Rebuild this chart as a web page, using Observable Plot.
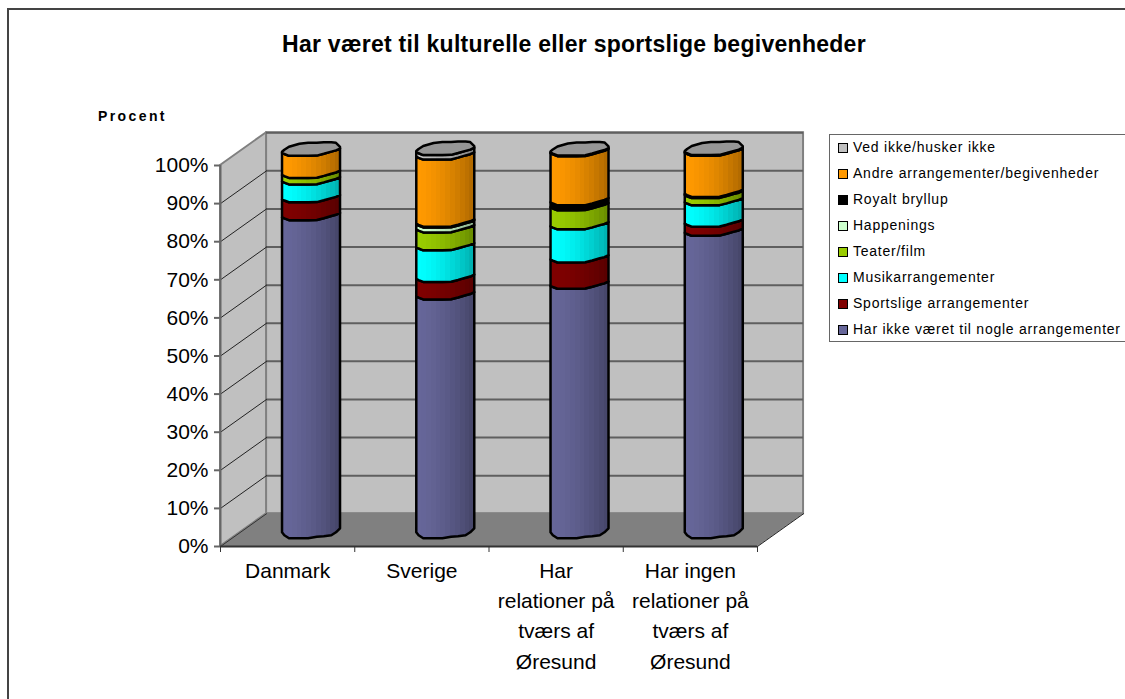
<!DOCTYPE html>
<html><head><meta charset="utf-8">
<script src="https://cdn.jsdelivr.net/npm/d3@7"></script>
<script src="https://cdn.jsdelivr.net/npm/@observablehq/plot@0.6"></script>
<style>
html,body{margin:0;padding:0;background:#fff;overflow:hidden}
#page{position:relative;width:1125px;height:699px;font-family:"Liberation Sans",Arial,sans-serif;color:#000}
#frame{position:absolute;left:7px;top:8px;width:1130px;height:700px;border:2px solid #444;box-sizing:border-box}
#title{position:absolute;left:282px;top:31px;font-weight:bold;font-size:23px;letter-spacing:.28px;white-space:nowrap}
#ytitle{position:absolute;left:98px;top:108px;font-weight:bold;font-size:14px;letter-spacing:2.4px;white-space:nowrap}
#legend{position:absolute;left:829px;top:134px;width:310px;height:208px;border:1px solid #666;box-sizing:border-box;background:#fff}
.row{position:absolute;left:8px;white-space:nowrap;font-size:14px;height:16px;line-height:16px}
.sw{position:absolute;left:0;top:4px;width:8px;height:8px;border:1.5px solid #000;box-sizing:content-box}
.lb{position:absolute;left:15px;top:0;letter-spacing:.76px}
svg{position:absolute;left:0;top:0}
</style></head><body>
<div id="page">
<div id="frame"></div>
<div id="chart"></div>
<div id="title"></div>
<div id="ytitle"></div>
<div id="legend"></div>
</div>
<script>
const chartTitle = "Har været til kulturelle eller sportslige begivenheder";
const yTitle = "Procent";
const categories = ["Danmark", "Sverige", "Har\nrelationer på\ntværs af\nØresund", "Har ingen\nrelationer på\ntværs af\nØresund"];
const seriesNames = ["Har ikke været til nogle arrangementer", "Sportslige arrangementer", "Musikarrangementer", "Teater/film", "Happenings", "Royalt bryllup", "Andre arrangementer/begivenheder", "Ved ikke/husker ikke"];
const seriesColors = ["#666699", "#800000", "#00FFFF", "#99CC00", "#CCFFCC", "#000000", "#FF9900", "#C0C0C0"];
const harIkke = [82.7, 61.9, 64.7, 78.6];
const sportslige = [4.7, 4.6, 6.9, 2.4];
const musik = [4.7, 8.3, 8.7, 5.6];
const teater = [1.7, 4.7, 5.0, 1.9];
const happenings = [0, 1.3, 0, 0];
const royalt = [0, 0.2, 1.3, 0.3];
const andre = [5.8, 17.6, 12.9, 10.8];
const vedIkke = [0, 1.2, 0.2, 0.2];
const seriesValues = [harIkke, sportslige, musik, teater, happenings, royalt, andre, vedIkke];
const yTicks = d3.range(0, 101, 10);
const xTicks = [0, 1, 2, 3, 4];

// Pseudo-3D projection constants, in scale units
const depthX = 0.343, depthY = 8.6;
const barLeft = 0.462, barWidth = 0.432, baseLift = 3.6, pxPerUnit = 3.81;
// Outline of the faceted cylinder, offsets in px (down is positive)
const us     = [0, .04, .12, .30, .45, .60, .72, .85, .93, 1];
const bound  = [0, 1.2, 3, 3, 3, 2.8, 1, -1.2, -2.4, -4.3];
const bottom = [0, 3, 6, 6, 6, 4.5, 4, 3, 0, -4];
const capTop = [-1, -3, -6, -9, -10, -10, -10.5, -10.5, -10, -6];
const lift = (v, off) => v + baseLift - off / pxPerUnit;

const ribbon = (b, loV, loOff, hiV, hiOff) => us.map((u, k) => ({
  key: b, x: b + barLeft + barWidth * u,
  y1: lift(loV, loOff[k]), y2: lift(hiV, hiOff[k])
}));

const segs = seriesValues.map((vals, s) => categories.flatMap((_, b) => {
  if (vals[b] === 0) return [];
  const lo = d3.sum(seriesValues.slice(0, s), a => a[b]);
  return ribbon(b, lo, s === 0 ? bottom : bound, lo + vals[b], bound);
}));
const caps = categories.flatMap((_, b) => {
  const t = d3.sum(seriesValues, a => a[b]);
  return ribbon(b, t, bound, t, capTop);
});

function gradients() {
  const defs = d3.create("svg:defs");
  const n = 12;
  seriesColors.forEach((c, i) => {
    const g = defs.append("linearGradient").attr("id", "g" + i);
    const base = d3.rgb(c);
    for (let k = 0; k < n; k++) {
      const f = 1 - 0.3 * Math.pow(k / (n - 1), 1.5);
      const col = d3.rgb(base.r * f, base.g * f, base.b * f).formatHex();
      g.append("stop").attr("offset", k / n).attr("stop-color", col);
      g.append("stop").attr("offset", (k + 1) / n).attr("stop-color", col);
    }
  });
  return defs.node();
}

const wallCol = "#808080", gridCol = "#5f5f5f", axisCol = "#666";
const side = [{x: 0, y1: 0, y2: 100}, {x: depthX, y1: depthY, y2: 100 + depthY}];
const floor = [{x: 0, y1: 0, y2: 0}, {x: depthX, y1: 0, y2: depthY}, {x: 4, y1: 0, y2: depthY}, {x: 4 + depthX, y1: depthY, y2: depthY}];
const gridRows = yTicks.flatMap(v => [{v, x: 0, y: v}, {v, x: depthX, y: v + depthY}]);

const chart = Plot.plot({
  width: 1125, height: 699,
  marginLeft: 220, marginRight: 368, marginTop: 165, marginBottom: 153,
  style: {background: "transparent", overflow: "visible"},
  x: {domain: [0, 4], axis: null},
  y: {domain: [0, 100], axis: null},
  marks: [
    gradients,
    Plot.rect([0], {x1: depthX, x2: 4 + depthX, y1: depthY, y2: 100 + depthY, fill: "#C0C0C0", stroke: wallCol, strokeWidth: 2}),
    Plot.areaY(side, {x: "x", y1: "y1", y2: "y2", fill: "#C0C0C0", stroke: wallCol, strokeWidth: 2}),
    Plot.ruleY(yTicks.filter(v => v > 0), {y: d => d + depthY, x1: depthX, x2: 4 + depthX, stroke: gridCol, strokeWidth: 2}),
    Plot.line(gridRows.filter(d => d.v < 100 && d.v > 0), {x: "x", y: "y", z: "v", stroke: "#222", strokeWidth: 1}),
    Plot.areaY(floor, {x: "x", y1: "y1", y2: "y2", fill: "#808080", stroke: "#808080", strokeWidth: 1}),
    Plot.line([{x: 4, y: 0}, {x: 4 + depthX, y: depthY}], {x: "x", y: "y", stroke: "#222", strokeWidth: 1}),
    Plot.line([{x: 0, y: 0}, {x: depthX, y: depthY}], {x: "x", y: "y", stroke: "#333", strokeWidth: 1}),
    ...segs.map((rows, s) => Plot.areaY(rows, {x: "x", y1: "y1", y2: "y2", z: "key", fill: `url(#g${s})`, stroke: "#000", strokeWidth: 2.5, strokeLinejoin: "round"})),
    Plot.areaY(caps, {x: "x", y1: "y1", y2: "y2", z: "key", fill: "#969696", stroke: "#000", strokeWidth: 2.5, strokeLinejoin: "round"}),
    Plot.ruleX([0], {y1: 0, y2: 100, stroke: axisCol, strokeWidth: 2}),
    Plot.ruleY([0], {x1: 0, x2: 4, stroke: "#333", strokeWidth: 2}),
    Plot.axisY({ticks: yTicks, tickFormat: d => d + "%", tickSize: 6, tickPadding: 6, fontSize: 21, color: "#000", stroke: axisCol, strokeWidth: 2, fontVariant: "normal", label: null}),
    Plot.axisX({ticks: xTicks, tickFormat: () => "", tickSize: 6, stroke: "#333", label: null}),
    Plot.text(categories, {x: (d, i) => i + 0.5, frameAnchor: "bottom", dy: 10, lineAnchor: "top", lineHeight: 1.44, fontSize: 21, fill: "#000", text: d => d})
  ]
});
chart.style.fontFamily = '"Liberation Sans",Arial,sans-serif';
document.getElementById("chart").append(chart);
document.getElementById("title").textContent = chartTitle;
document.getElementById("ytitle").textContent = yTitle;
const legend = d3.select("#legend");
seriesNames.map((n, i) => [n, seriesColors[i]]).reverse().forEach(([n, c], i) => {
  const r = legend.append("div").attr("class", "row").style("top", (4 + 26 * i) + "px");
  r.append("div").attr("class", "sw").style("background", c);
  r.append("div").attr("class", "lb").text(n);
});
</script>
</body></html>
